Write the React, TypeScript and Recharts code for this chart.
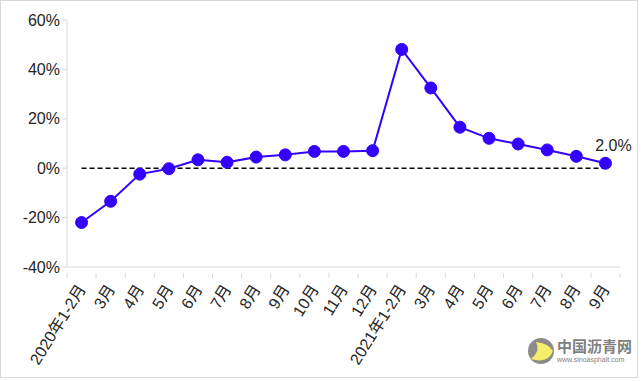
import { LineChart, Line, XAxis, YAxis, ReferenceLine } from 'recharts';

const categories = [
  '2020年1-2月', '3月', '4月', '5月', '6月', '7月', '8月', '9月', '10月', '11月', '12月',
  '2021年1-2月', '3月', '4月', '5月', '6月', '7月', '8月', '9月',
];

const growth = [
  -22.0, -13.4, -2.4, -0.2, 3.4, 2.4, 4.5, 5.4, 6.8, 6.8, 7.1,
  48.1, 32.5, 16.6, 12.1, 9.8, 7.4, 4.8, 2.0,
];

const yTicks = [-40, -20, 0, 20, 40, 60];

const data = categories.map((c, i) => ({ key: `${i}`, name: c, value: growth[i] }));

const W = 643;
const H = 381;
const LEFT = 67;
const RIGHT = 23;
const FONT = "'Liberation Sans', Arial, 'Noto Sans CJK SC', sans-serif";
const BAND = (W - LEFT - RIGHT) / categories.length;

function XTick(props: any) {
  const { x, y, payload, index } = props;
  const label = categories[Number(payload.value)];
  const axisY = y - 8;
  return (
    <g>
      <line x1={x - BAND / 2} x2={x - BAND / 2} y1={axisY} y2={axisY + 5} stroke="#d9d9d9" />
      {index === categories.length - 1 && (
        <line x1={x + BAND / 2} x2={x + BAND / 2} y1={axisY} y2={axisY + 5} stroke="#d9d9d9" />
      )}
      <text
        x={x + 5}
        y={y + 8}
        transform={`rotate(-58, ${x + 5}, ${y + 8})`}
        textAnchor="end"
        fontSize={16}
        fill="#262626"
        fontFamily={FONT}
      >
        {label}
      </text>
    </g>
  );
}

function LastLabel(props: any) {
  const { x, y, index, value } = props;
  if (index !== growth.length - 1) return null;
  return (
    <text x={x + 8} y={y - 12} textAnchor="middle" fontSize={16} fill="#262626" fontFamily={FONT}>
      {`${Number(value).toFixed(1)}%`}
    </text>
  );
}

function Watermark() {
  return (
    <g>
      <circle cx={541} cy={351} r={13} fill="#8c8c8c" />
      <path d="M531 359 Q541 351 536 342 Q548 343 553 351 Q548 364 531 359 Z" fill="#f4ee6a" />
      <text x={557} y={352} fontSize={15} fontWeight="bold" fill="#7f7f7f" fontFamily={FONT}>
        中国沥青网
      </text>
      <text x={557} y={362} fontSize={7} fill="#7f7f7f" fontFamily={FONT}>
        www.sinoasphalt.com
      </text>
    </g>
  );
}

export default function App() {
  return (
    <div style={{ position: 'absolute', left: 0, top: 0, width: W, height: H, background: '#fff' }}>
      <div
        style={{
          position: 'absolute',
          left: 0,
          top: 0,
          width: W - 5,
          height: H - 3,
          border: '1px solid #d9d9d9',
          boxSizing: 'border-box',
        }}
      />
      <LineChart
        width={W}
        height={H}
        data={data}
        margin={{ top: 20, right: RIGHT, bottom: 0, left: 0 }}
        style={{ position: 'absolute', left: 0, top: 0 }}
      >
        <XAxis
          dataKey="key"
          interval={0}
          height={114}
          padding={{ left: BAND / 2, right: BAND / 2 }}
          axisLine={{ stroke: '#d9d9d9' }}
          tickLine={false}
          tick={<XTick />}
          tickMargin={8}
        />
        <YAxis
          domain={[-40, 60]}
          ticks={yTicks}
          width={LEFT}
          axisLine={{ stroke: '#d9d9d9' }}
          tickLine={{ stroke: '#d9d9d9' }}
          tickSize={5}
          tick={{ fontSize: 16, fill: '#262626', fontFamily: FONT }}
          tickFormatter={(v) => `${v}%`}
        />
        <ReferenceLine
          segment={[
            { x: '0', y: 0 },
            { x: `${categories.length - 1}`, y: 0 },
          ]}
          stroke="#000"
          strokeWidth={1.5}
          strokeDasharray="5 3"
        />
        <Line
          dataKey="value"
          stroke="#3300ff"
          strokeWidth={2}
          dot={{ r: 6, fill: '#3300ff', stroke: '#3300ff', strokeWidth: 1 }}
          label={<LastLabel />}
          isAnimationActive={false}
        />
        <Watermark />
      </LineChart>
    </div>
  );
}
